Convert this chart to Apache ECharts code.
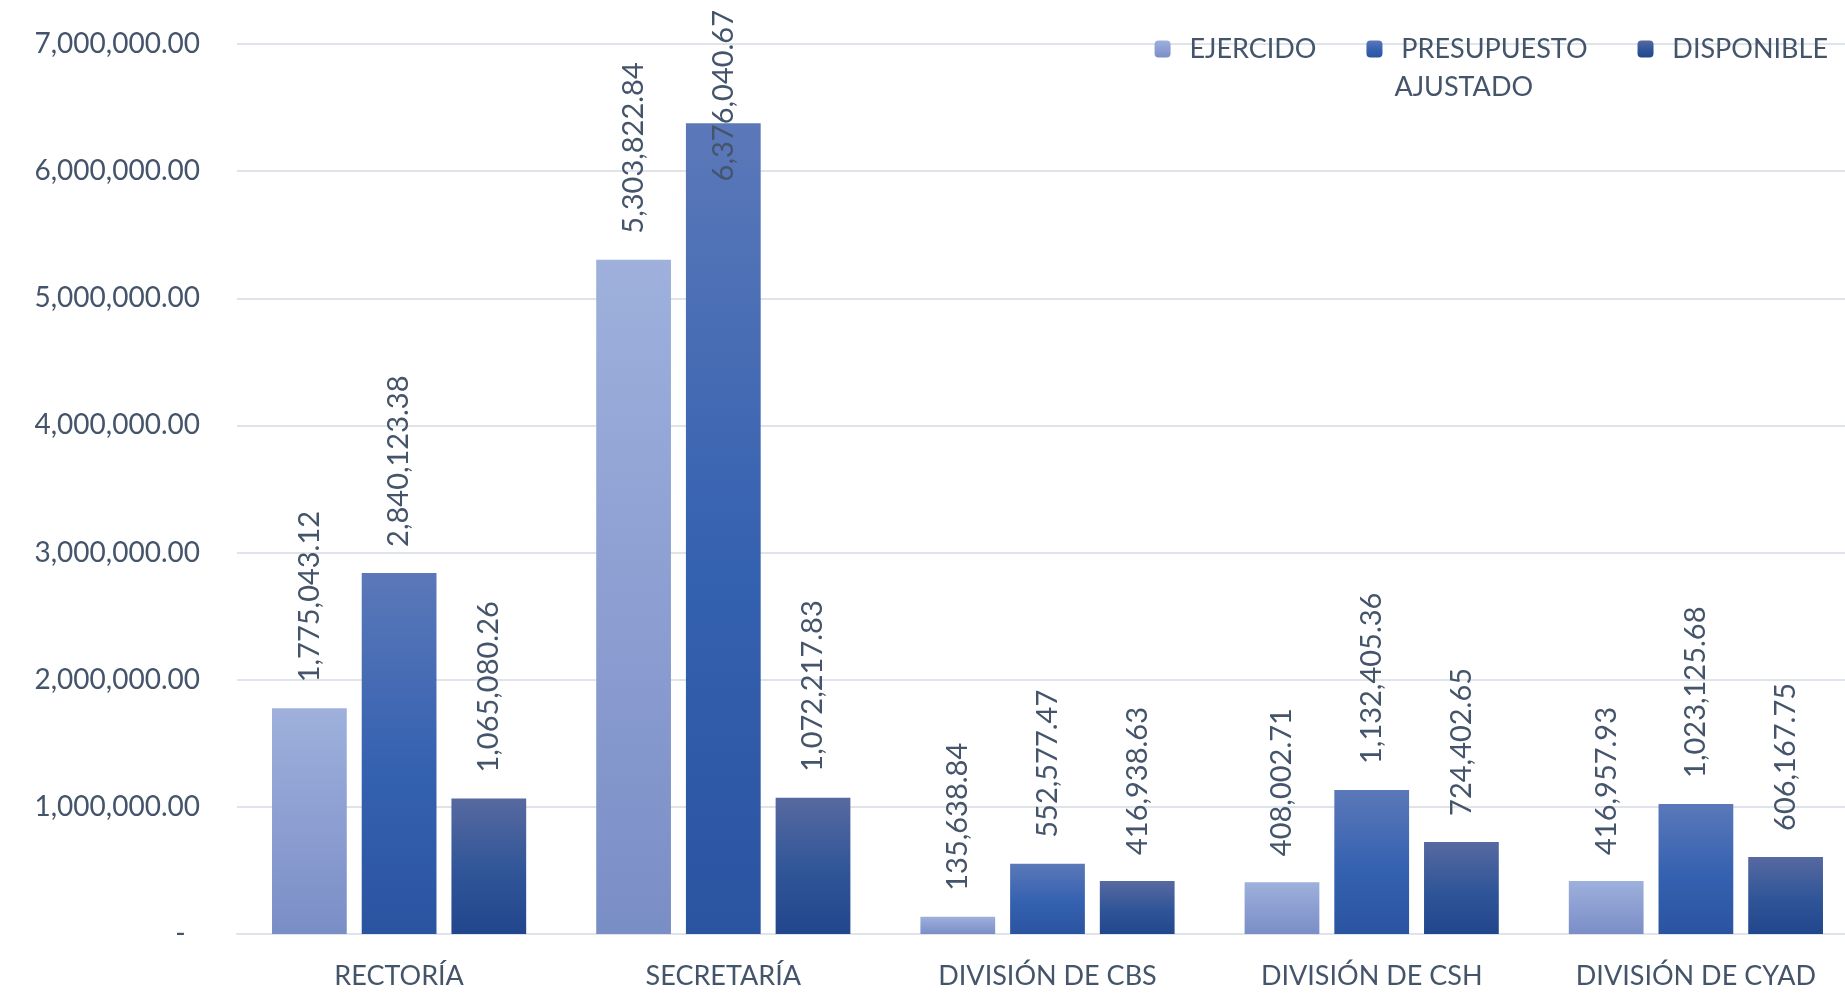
<!DOCTYPE html>
<html>
<head>
<meta charset="utf-8">
<title>Presupuesto por unidad</title>
<script src="https://cdn.jsdelivr.net/npm/echarts@6/dist/echarts.min.js"></script>
<style>
  html, body { margin: 0; padding: 0; background: #fff; }
  #chart { width: 1845px; height: 993px; }
</style>
</head>
<body>
<div id="chart"></div>
<script>
// datos
const categories = ['RECTORÍA', 'SECRETARÍA', 'DIVISIÓN DE CBS', 'DIVISIÓN DE CSH', 'DIVISIÓN DE CYAD']
const ejercido = [1775043.12, 5303822.84, 135638.84, 408002.71, 416957.93]
const presupuesto = [2840123.38, 6376040.67, 552577.47, 1132405.36, 1023125.68]
const disponible = [1065080.26, 1072217.83, 416938.63, 724402.65, 606167.75]
const yTicks = [0, 1000000, 2000000, 3000000, 4000000, 5000000, 6000000, 7000000]

const TEXT = '#44546a'
const FONT = 'Lato'
const GRID_LINE = '#dfe3ea'
const LEGEND_LH = 38

function money(v) {
  return v.toLocaleString('en-US', { minimumFractionDigits: 2, maximumFractionDigits: 2 })
}

function grad(top, mid, bottom) {
  return new echarts.graphic.LinearGradient(0, 0, 0, 1, [
    { offset: 0, color: top },
    { offset: 0.55, color: mid },
    { offset: 1, color: bottom },
  ])
}

// etiqueta vertical arriba de la barra
const barLabel = {
  show: true,
  position: 'top',
  distance: 26,
  rotate: 90,
  align: 'left',
  verticalAlign: 'middle',
  color: TEXT,
  fontFamily: FONT,
  fontSize: 29,
  formatter: function (p) { return money(p.value) },
}

function makeSeries(name, data, color) {
  return {
    name: name,
    type: 'bar',
    data: data,
    barGap: '20%',
    barCategoryGap: '21.6%',
    itemStyle: { color: color },
    label: barLabel,
    // si la etiqueta se sale por arriba se empuja hacia abajo (como en excel)
    labelLayout: function (params) {
      const r = params.labelRect
      if (r.y < 10) {
        return { y: 10 + r.height }
      }
      return {}
    },
  }
}

// leyenda: tres renglones por item para que el icono quede en el primero de PRESUPUESTO
function legendText(name) {
  if (name === 'PRESUPUESTO AJUSTADO') return ' \n  PRESUPUESTO\n AJUSTADO'
  return ' \n  ' + name + '\n '
}

const chart = echarts.init(document.getElementById('chart'))

chart.setOption({
  animation: false,
  textStyle: { fontFamily: FONT },
  // el area de trazo de excel se sale un poco por la derecha
  grid: { left: 237, width: 1621, top: 44, bottom: 59, containLabel: false, outerBoundsMode: 'none' },
  legend: {
    right: 12,
    top: 44 - LEGEND_LH * 1.5,
    itemWidth: 16,
    itemHeight: 17,
    itemGap: 50,
    textStyle: { color: TEXT, fontFamily: FONT, fontSize: 27, lineHeight: LEGEND_LH },
    data: ['EJERCIDO', 'PRESUPUESTO AJUSTADO', 'DISPONIBLE'],
    formatter: legendText,
  },
  xAxis: {
    type: 'category',
    data: categories,
    axisTick: { show: false },
    axisLine: { show: true, lineStyle: { color: GRID_LINE, width: 2 } },
    axisLabel: { color: TEXT, fontFamily: FONT, fontSize: 27, margin: 29 },
  },
  yAxis: {
    type: 'value',
    min: yTicks[0],
    max: yTicks[yTicks.length - 1],
    interval: 1000000,
    axisLine: { show: false },
    axisTick: { show: false },
    splitLine: { lineStyle: { color: GRID_LINE, width: 2 } },
    axisLabel: {
      color: TEXT,
      fontFamily: FONT,
      fontSize: 28,
      margin: 37,
      formatter: function (v) { return v === 0 ? '-  ' : money(v) },
    },
  },
  series: [
    makeSeries('EJERCIDO', ejercido, grad('#9eb0db', '#8b9dd1', '#7a8ec6')),
    makeSeries('PRESUPUESTO AJUSTADO', presupuesto, grad('#5b78b9', '#3461b0', '#2b54a0')),
    makeSeries('DISPONIBLE', disponible, grad('#5769a0', '#2f5598', '#22468c')),
  ],
})
</script>
</body>
</html>
